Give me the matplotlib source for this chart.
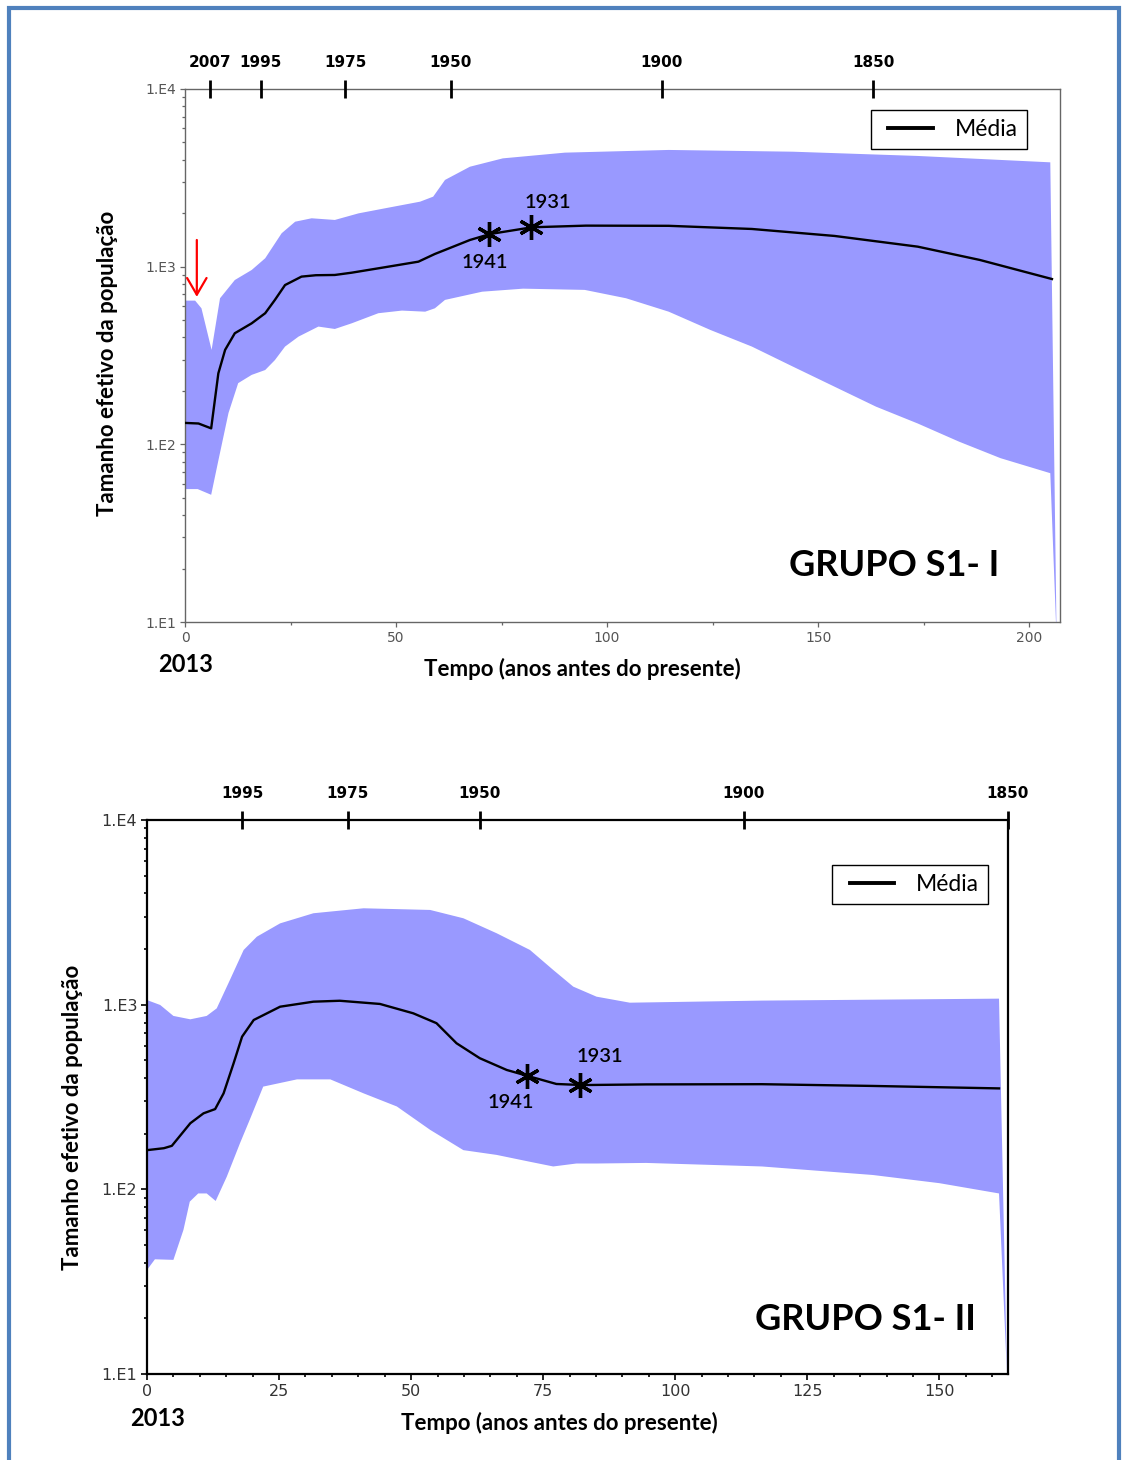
import numpy as np
import matplotlib
matplotlib.use("Agg")
from matplotlib import pyplot as plt
from matplotlib.patches import Rectangle
from matplotlib.legend_handler import HandlerLine2D
from matplotlib.lines import Line2D
from matplotlib.ticker import FixedLocator, FixedFormatter, LogLocator, NullFormatter

# ---- panel 1 (GRUPO S1- I) ----
mean1_t = [0, 3.2, 6.2, 7.9, 9.5, 11.8, 15.8, 19, 21.3, 23.7, 27.6, 31, 35.5, 39.5, 47.4,
           55.3, 59.2, 61.6, 67.5, 72.3, 82.2, 95, 114.6, 134.3, 153.9, 173.6, 188.3, 205.4]
mean1 = [132, 131, 123, 251, 340, 422, 480, 547, 650, 788, 879, 895, 898, 925, 993,
         1067, 1179, 1242, 1413, 1527, 1666, 1702, 1698, 1630, 1489, 1296, 1091, 852]
upper1_t = [0, 2.4, 3.9, 6.3, 8.3, 11.8, 15.8, 19, 22.9, 26.1, 30, 35.5, 41.1, 47.4, 55.7,
            58.8, 61.6, 67.5, 75.3, 90, 114.6, 144, 173.6, 205, 206.5]
upper1 = [644, 644, 583, 340, 664, 841, 958, 1115, 1542, 1791, 1872, 1832, 1995, 2131, 2322,
          2478, 3077, 3652, 4070, 4383, 4539, 4437, 4199, 3866, 8]
lower1_t = [0, 3, 6.2, 7.9, 10.3, 12.6, 15.8, 19, 21.3, 23.7, 26.9, 31.6, 35.5, 39.5, 45.8,
            51.4, 56.9, 59.2, 61.6, 70.4, 80.1, 94.7, 104.5, 114.6, 124.5, 134.3, 144, 153.9,
            163.7, 173.6, 183.4, 193.2, 205, 206.5]
lower1 = [56, 56, 52, 81, 150, 221, 246, 262, 298, 355, 404, 460, 446, 480, 547,
          566, 558, 583, 650, 723, 752, 740, 664, 558, 440, 355, 274, 211,
          163, 131, 103.5, 83.6, 68.8, 8]
years1 = [2007, 1995, 1975, 1950, 1900, 1850]
xmax1 = 207.3

# ---- panel 2 (GRUPO S1- II) ----
mean2_t = [0, 3.2, 4.7, 8.2, 10.7, 12.9, 14.5, 16.4, 18, 20.2, 25.2, 31.5, 36.5, 44.1, 50.4,
           54.8, 58.6, 63, 68.1, 72.5, 77.5, 82.4, 94.5, 116.4, 137.4, 161.3]
mean2 = [163, 167, 172, 228, 258, 272, 331, 482, 671, 826, 975, 1038, 1050, 1009, 898,
         794, 618, 513, 443, 408, 372, 367, 370, 371, 363, 352]
upper2_t = [0, 2.5, 5, 8.2, 11.3, 13.2, 15.7, 18.3, 20.8, 25.2, 31.5, 41, 53.6, 59.9, 66.2,
            72.5, 76.9, 80.7, 85.1, 91.4, 116.4, 161.3, 162.8]
upper2 = [1059, 996, 869, 833, 869, 955, 1361, 1978, 2334, 2756, 3126, 3326, 3258, 2936, 2436,
          1978, 1542, 1252, 1105, 1025, 1052, 1078, 10]
lower2_t = [0, 1.5, 5, 6.9, 8.1, 9.7, 11.3, 13, 15.1, 17.6, 19.5, 22, 28.4, 34.7, 41, 47.3,
            53.6, 59.9, 66.2, 72.5, 76.9, 81.3, 85.1, 94.5, 116.4, 137.4, 150, 161.3, 162.8]
lower2 = [36.6, 41.8, 41.5, 60.3, 85.8, 95, 95, 86.5, 117, 177.6, 240, 360, 394, 394, 331, 281,
          210, 163, 153.6, 141, 133, 138, 138, 139, 133, 119.6, 108, 95, 10]
years2 = [1995, 1975, 1950, 1900, 1850]
xmax2 = 163

marked_years = [1941, 1931]
present = 2013

W, H = 1122, 1460
FILL = '#9999FF'
TXT = ['Lato', 'DejaVu Sans']


def px(x, y):
    return x / W, 1 - y / H


def draw_panel(fig, rect, mt, m, ut, u, lt, l, years, xmax, major, minor, style):
    ax = fig.add_axes(rect)
    ax.set_yscale('log')
    ax.set_ylim(10, 10000)
    ax.set_xlim(0, xmax)

    # band (upper edge then lower edge back)
    xs = np.concatenate([ut, lt[::-1]])
    ys = np.concatenate([u, l[::-1]])
    ax.fill(xs, ys, color=FILL, lw=0, zorder=1)
    ax.plot(mt, m, color='black', lw=1.7, zorder=3, label='Média', solid_joinstyle='round')

    # asterisks at 1941 / 1931, placed on the mean line
    for yr in marked_years:
        t = present - yr
        v = 10 ** np.interp(t, mt, np.log10(m))
        ax.plot(t, v, marker=(6, 2, 0), ms=style['ast'], mew=2.4, color='black', zorder=4)

    for s in ax.spines.values():
        s.set_color(style['spine'])
        s.set_linewidth(style['slw'])
    ax.yaxis.set_major_locator(FixedLocator([10, 100, 1000, 10000]))
    ax.yaxis.set_major_formatter(FixedFormatter(['1.E1', '1.E2', '1.E3', '1.E4']))
    ax.yaxis.set_minor_locator(LogLocator(base=10, subs=np.arange(2, 10)))
    ax.yaxis.set_minor_formatter(NullFormatter())
    ax.xaxis.set_major_locator(FixedLocator(major))
    ax.xaxis.set_minor_locator(FixedLocator(minor))
    ax.tick_params(which='major', direction='out', length=style['tl'], width=style['tw'],
                   color=style['spine'], labelsize=style['ls'], labelcolor=style['lc'], pad=3,
                   top=False, right=False)
    ax.tick_params(which='minor', direction='out', length=style['tl'] * 0.6, width=style['tw'],
                   color=style['spine'], top=False, right=False)
    for lab in ax.get_xticklabels() + ax.get_yticklabels():
        lab.set_family('DejaVu Sans')

    # calendar years on top
    top = ax.twiny()
    top.set_xlim(ax.get_xlim())
    top.set_xticks([present - y for y in years])
    top.set_xticklabels([str(y) for y in years], fontweight='bold', fontsize=11,
                        family='DejaVu Sans')
    top.tick_params(axis='x', direction='inout', length=13, width=2, color='black', pad=7)
    for s in top.spines.values():
        s.set_visible(False)

    leg = ax.legend(loc='upper right', bbox_to_anchor=style['leg'], borderaxespad=0,
                    fancybox=False, edgecolor='black', framealpha=1,
                    prop={'family': TXT, 'size': 16.5}, handlelength=2.3, handletextpad=0.95,
                    borderpad=0.4,
                    handler_map={Line2D: HandlerLine2D(xpad=0.35)})
    leg.get_frame().set_linewidth(1.0)
    leg.get_lines()[0].set_linewidth(2.8)
    return ax


fig = plt.figure(figsize=(W / 100, H / 100), dpi=100)

style1 = dict(spine='#666666', slw=1.0, tl=3.5, tw=0.9, ls=10, lc='#555555', ast=18,
              leg=(0.962, 0.961))
style2 = dict(spine='black', slw=1.6, tl=4, tw=1.2, ls=11.5, lc='#333333', ast=18,
              leg=(0.977, 0.919))

ax1 = draw_panel(fig, [185 / W, 1 - 622 / H, 875 / W, 533 / H],
                 mean1_t, mean1, np.array(upper1_t), np.array(upper1),
                 np.array(lower1_t), np.array(lower1), years1, xmax1,
                 [0, 50, 100, 150, 200], [25, 75, 125, 175], style1)
ax2 = draw_panel(fig, [147 / W, 1 - 1374 / H, 861 / W, 554 / H],
                 mean2_t, mean2, np.array(upper2_t), np.array(upper2),
                 np.array(lower2_t), np.array(lower2), years2, xmax2,
                 list(range(0, 151, 25)), [v for v in range(5, 161, 5) if v % 25], style2)

# red arrow (panel 1)
ax1.annotate('', xy=(2.8, 676), xytext=(2.8, 1413),
             arrowprops=dict(arrowstyle='->,head_length=0.6,head_width=0.35', color='red',
                             lw=1.6, mutation_scale=20, shrinkA=0, shrinkB=0))

# axis labels and titles
lab = dict(family=TXT, fontweight='bold', color='black')
fig.text(*px(108, 363), 'Tamanho efetivo da população', rotation=90, ha='center', va='center',
         fontsize=16, **lab)
fig.text(*px(73, 1117), 'Tamanho efetivo da população', rotation=90, ha='center', va='center',
         fontsize=16, **lab)
fig.text(*px(582, 669), 'Tempo (anos antes do presente)', ha='center', va='center',
         fontsize=16, **lab)
fig.text(*px(559, 1423), 'Tempo (anos antes do presente)', ha='center', va='center',
         fontsize=16, **lab)
fig.text(*px(186, 664), '2013', ha='center', va='center', fontsize=17, **lab)
fig.text(*px(158, 1418), '2013', ha='center', va='center', fontsize=17, **lab)
fig.text(*px(894, 566), 'GRUPO S1- I', ha='center', va='center', fontsize=26, **lab)
fig.text(*px(865, 1320), 'GRUPO S1- II', ha='center', va='center', fontsize=26, **lab)

# year labels next to asterisks
ann = dict(family=TXT, fontsize=14.5, fontweight='semibold', color='black',
           ha='center', va='center')
fig.text(*px(548, 202), '1931', **ann)
fig.text(*px(485, 262), '1941', **ann)
fig.text(*px(600, 1057), '1931', **ann)
fig.text(*px(511, 1103), '1941', **ann)

# blue page border
fig.add_artist(Rectangle((9 / W, -0.02), (1119 - 9) / W, 1.02 - 8 / H, transform=fig.transFigure,
                         fill=False, edgecolor='#4F81BD', lw=3, clip_on=False))

fig.savefig('out.png', dpi=100)
